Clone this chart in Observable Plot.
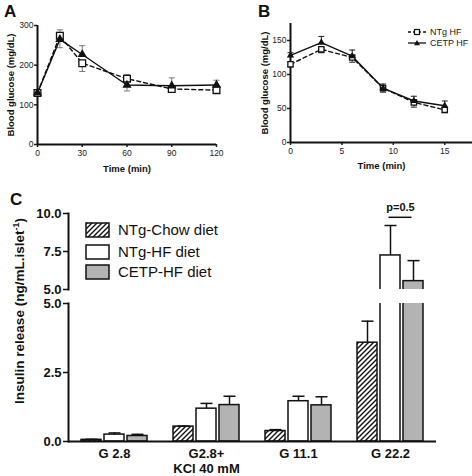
<!DOCTYPE html>
<html><head><meta charset="utf-8">
<script src="https://cdn.jsdelivr.net/npm/d3@7"></script>
<script src="https://cdn.jsdelivr.net/npm/@observablehq/plot@0.6"></script>
<style>
body{margin:0;background:#fff;}
#root{position:relative;width:472px;height:476px;overflow:hidden;background:#fff;}
#root svg{position:absolute;max-width:none;}
</style></head><body><div id="root"></div>
<script>
// ---------- Panel A data ----------
const timeA = [0, 15, 30, 60, 90, 120];
const ntgA = [130, 274, 205, 166, 140, 137];
const ntgAErr = [4, 15, 21, 10, 5, 4];
const cetpA = [130, 265, 227, 150, 148, 150];
const cetpAErr = [4, 21, 22, 15, 20, 12];
const xTicksA = [0, 30, 60, 90, 120];
const yTicksA = [0, 100, 200, 300];

// ---------- Panel B data ----------
const timeB = [0, 3, 6, 9, 12, 15];
const ntgB = [115, 137, 125, 80, 59, 48];
const ntgBErr = [4, 5, 7, 6, 7, 4];
const cetpB = [128, 147, 127, 80, 61, 54];
const cetpBErr = [4, 9, 9, 6, 7, 7];
const xTicksB = [0, 5, 10, 15];
const yTicksB = [0, 50, 100, 150];
const seriesAB = ["NTg HF", "CETP HF"];

// ---------- Panel C data ----------
const conditions = ["G 2.8", "G2.8+\nKCl 40 mM", "G 11.1", "G 22.2"];
const diets = ["NTg-Chow diet", "NTg-HF diet", "CETP-HF diet"];
const chowC = [0.06, 0.54, 0.38, 3.58];
const chowCErr = [0.02, 0.02, 0.05, 0.78];
const hfC = [0.25, 1.19, 1.46, 7.24];
const hfCErr = [0.06, 0.19, 0.18, 1.97];
const cetpC = [0.20, 1.32, 1.31, 5.55];
const cetpCErr = [0.06, 0.32, 0.31, 1.35];
const yTicksCLow = [0, 2.5, 5];
const yTicksCHigh = [5, 7.5, 10];
const pLabel = "p=0.5";
const pAt = 9.75;

const FONT = '"Liberation Sans", Arial, Helvetica, sans-serif';
const root = document.getElementById("root");
function place(el, left, top) { el.style.left = left + "px"; el.style.top = top + "px"; root.append(el); return el; }

const capSymbol = {draw(ctx, size) { const r = Math.sqrt(size / Math.PI); ctx.moveTo(-r, 0); ctx.lineTo(r, 0); }};

function curveRows(times, a, aErr, b, bErr) {
  return times.flatMap((t, i) => [
    {t, s: seriesAB[0], v: a[i], e: aErr[i], dir: a[i] > b[i] ? 1 : -1},
    {t, s: seriesAB[1], v: b[i], e: bErr[i], dir: b[i] >= a[i] ? 1 : -1}
  ]);
}

function curvePlot({rows, xDomain, xTicks, yDomain, yTicks, width, height, margins, errColor, xLabelDy, yLabelDx, symR}) {
  const ntg = rows.filter(d => d.s === seriesAB[0]);
  const cetp = rows.filter(d => d.s === seriesAB[1]);
  return Plot.plot({
    width, height, ...margins,
    style: {fontFamily: FONT, fontSize: "8.5px", color: "#222", background: "transparent", overflow: "visible"},
    x: {domain: xDomain},
    y: {domain: yDomain},
    marks: [
      Plot.axisX({ticks: xTicks, tickSize: 3, tickPadding: 2, label: null, strokeWidth: 1.5}),
      Plot.axisY({ticks: yTicks, tickSize: 3, tickPadding: 1, label: null, strokeWidth: 1.5}),
      Plot.ruleY([yDomain[0]], {stroke: "#111", strokeWidth: 2}),
      Plot.ruleX([xDomain[0]], {stroke: "#111", strokeWidth: 2}),
      Plot.ruleX(rows, {x: "t", y1: "v", y2: d => d.v + d.dir * d.e, stroke: errColor, strokeWidth: 1}),
      Plot.dot(rows, {x: "t", y: d => d.v + d.dir * d.e, symbol: capSymbol, r: 3, stroke: errColor, fill: "none", strokeWidth: 1}),
      Plot.line(ntg, {x: "t", y: "v", stroke: "#111", strokeWidth: 1.4, strokeDasharray: "4,3"}),
      Plot.line(cetp, {x: "t", y: "v", stroke: "#111", strokeWidth: 1.4}),
      Plot.dot(ntg, {x: "t", y: "v", symbol: "square", r: symR, fill: "white", stroke: "#111", strokeWidth: 1.3}),
      Plot.dot(cetp, {x: "t", y: "v", symbol: "triangle", r: symR * 0.9, fill: "#111", stroke: "none"}),
      Plot.text(["Time (min)"], {text: d => d, frameAnchor: "bottom", textAnchor: "middle", lineAnchor: "middle", dy: xLabelDy, fontWeight: "bold", fontSize: 9.5, fill: "#111"}),
      Plot.text(["Blood glucose (mg/dL)"], {text: d => d, frameAnchor: "left", textAnchor: "middle", lineAnchor: "middle", rotate: -90, dx: yLabelDx, fontWeight: "bold", fontSize: 9.5, fill: "#111"})
    ]
  });
}

// Panel A
place(curvePlot({
  rows: curveRows(timeA, ntgA, ntgAErr, cetpA, cetpAErr),
  xDomain: [0, 120], xTicks: xTicksA, yDomain: [0, 300], yTicks: yTicksA,
  width: 236, height: 180,
  margins: {marginLeft: 37, marginRight: 20, marginTop: 25, marginBottom: 36},
  errColor: "#777", xLabelDy: 24, yLabelDx: -27, symR: 3.8
}), 0, 0);

// Panel B
place(curvePlot({
  rows: curveRows(timeB, ntgB, ntgBErr, cetpB, cetpBErr),
  xDomain: [0, 17.7], xTicks: xTicksB, yDomain: [0, 175], yTicks: yTicksB,
  width: 236, height: 180,
  margins: {marginLeft: 54, marginRight: 0, marginTop: 23, marginBottom: 38},
  errColor: "#222", xLabelDy: 23, yLabelDx: -26, symR: 3
}), 236, 0);

// Panel C
const rowsC = conditions.flatMap((g, i) => [
  {g, s: diets[0], v: chowC[i], e: chowCErr[i]},
  {g, s: diets[1], v: hfC[i], e: hfCErr[i]},
  {g, s: diets[2], v: cetpC[i], e: cetpCErr[i]}
]);
const dietFill = {[diets[0]]: "url(#hatchC)", [diets[1]]: "white", [diets[2]]: "#b3b3b3"};

function barPlot({yDomain, yTicks, height, marginTop, marginBottom, lower}) {
  const marks = [
    ...diets.map(s => Plot.barY(rowsC.filter(d => d.s === s), {fx: "g", x: "s", y: "v", fill: dietFill[s], stroke: "#111", strokeWidth: 1.5, inset: 0, clip: true})),
    Plot.ruleX(rowsC, {fx: "g", x: "s", y1: "v", y2: d => d.v + d.e, stroke: "#111", strokeWidth: 1.5, clip: true}),
    Plot.dot(rowsC, {fx: "g", x: "s", y: d => d.v + d.e, symbol: capSymbol, r: 6, stroke: "#111", strokeWidth: 1.5, fill: "none", clip: true}),
    Plot.axisY({ticks: yTicks, tickFormat: d3.format(".1f"), tickSize: 5, tickPadding: 2, label: null, fontWeight: "bold", fontSize: 13, strokeWidth: 1.5}),
    Plot.frame({anchor: "left", facetAnchor: "left", stroke: "#111", strokeWidth: 2})
  ];
  if (lower) {
    marks.push(Plot.ruleY([0], {stroke: "#111", strokeWidth: 2}));
    marks.push(Plot.axisFx({anchor: "bottom", tickSize: 0, tickPadding: 5, label: null, fontWeight: "bold", fontSize: 13, lineHeight: 1.2}));
  } else {
    const last = [{g: conditions[3]}];
    marks.push(Plot.link(last, {fx: "g", x1: () => diets[1], x2: () => diets[2], y1: () => pAt, y2: () => pAt, dx: -2, stroke: "#111", strokeWidth: 1.5}));
    marks.push(Plot.text(last, {fx: "g", x: () => diets[1], dx: 10, y: () => pAt + 0.65, text: () => pLabel, fontWeight: "bold", fontSize: 11, fill: "#111"}));
  }
  return Plot.plot({
    width: 472, height, marginLeft: 68, marginRight: 36, marginTop, marginBottom,
    style: {fontFamily: FONT, fontSize: "13px", color: "#111", background: "transparent", overflow: "visible"},
    fx: {domain: conditions, padding: 0, axis: null, label: null},
    x: {domain: diets, paddingInner: 0.125, paddingOuter: 0.48, axis: null},
    y: {domain: yDomain},
    marks
  });
}

place(barPlot({yDomain: [5, 10], yTicks: yTicksCHigh, height: 105, marginTop: 23, marginBottom: 6, lower: false}), 0, 190);
place(barPlot({yDomain: [0, 5], yTicks: yTicksCLow, height: 181, marginTop: 8, marginBottom: 35, lower: true}), 0, 295);

// ---------- Overlay: panel letters, legends, C y-label ----------
const ov = d3.create("svg").attr("width", 472).attr("height", 476)
  .style("left", "0px").style("top", "0px").style("pointer-events", "none")
  .style("font-family", FONT);
const pat = ov.append("defs").append("pattern").attr("id", "hatchC")
  .attr("patternUnits", "userSpaceOnUse").attr("width", 5).attr("height", 5);
pat.append("rect").attr("width", 5).attr("height", 5).attr("fill", "white");
pat.append("path").attr("d", "M-1,1 l2,-2 M0,5 l5,-5 M4,6 l2,-2").attr("stroke", "#111").attr("stroke-width", 1.4);

[["A", 4, 17], ["B", 258, 17], ["C", 10, 205]].forEach(([t, x, y]) =>
  ov.append("text").attr("x", x).attr("y", y).attr("font-size", 17).attr("font-weight", "bold").attr("fill", "#111").text(t));

// Legend B
const lgB = ov.append("g");
[[seriesAB[0], 32, true], [seriesAB[1], 43, false]].forEach(([name, y, dashed]) => {
  lgB.append("line").attr("x1", 408).attr("x2", 426).attr("y1", y).attr("y2", y)
    .attr("stroke", "#111").attr("stroke-width", 1.3).attr("stroke-dasharray", dashed ? "3,2" : null);
  if (dashed) lgB.append("rect").attr("x", 414.5).attr("y", y - 2.5).attr("width", 5).attr("height", 5).attr("fill", "white").attr("stroke", "#111").attr("stroke-width", 1.2);
  else lgB.append("path").attr("d", `M417,${y - 3} L420,${y + 2.2} L414,${y + 2.2}Z`).attr("fill", "#111");
  lgB.append("text").attr("x", 430).attr("y", y).attr("dy", "0.35em").attr("font-size", 9).attr("fill", "#222").text(name);
});

// Legend C
const lgC = ov.append("g");
[[diets[0], 230], [diets[1], 252], [diets[2], 272]].forEach(([name, y]) => {
  lgC.append("rect").attr("x", 86).attr("y", y - 7).attr("width", 23).attr("height", 14)
    .attr("fill", dietFill[name]).attr("stroke", "#111").attr("stroke-width", 1.5);
  lgC.append("text").attr("x", 118).attr("y", y).attr("dy", "0.35em").attr("font-size", 15).attr("fill", "#111").text(name);
});

// C y-axis label
const yl = ov.append("text").attr("transform", "translate(24,311) rotate(-90)").attr("text-anchor", "middle")
  .attr("font-size", 13.5).attr("font-weight", "bold").attr("fill", "#111");
yl.append("tspan").text("Insulin release (ng/mL.islet");
yl.append("tspan").attr("dy", -5).attr("font-size", 9).text("-1");
yl.append("tspan").attr("dy", 5).text(")");

root.append(ov.node());
</script>
</body></html>
